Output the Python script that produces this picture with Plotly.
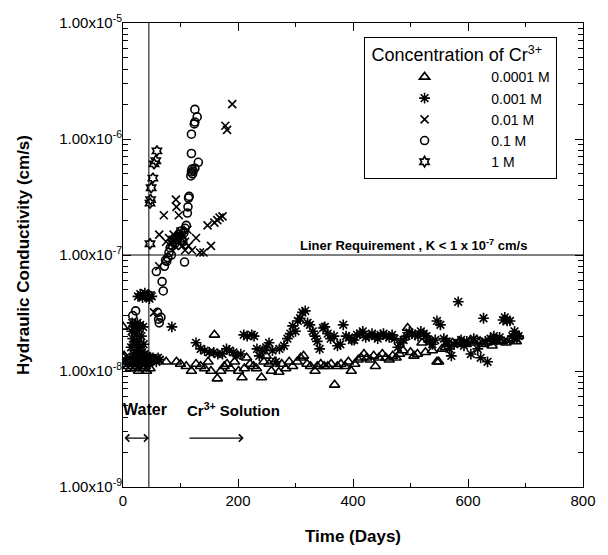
import plotly.graph_objects as go

# ---------------- data ----------------
series_names = ["0.0001 M", "0.001 M", "0.01 M", "0.1 M", "1 M"]
legend_title = "Concentration of Cr<sup>3+</sup>"

t_0001 = [0, 1, 2, 3, 5, 7, 9, 11, 13, 15, 17, 19, 21, 23, 25, 27, 29, 31, 33, 35, 37, 39, 41, 43, 45, 47,
          75, 93, 100, 110, 119, 127, 135, 142, 148, 153, 159, 164, 170, 176, 181, 187, 194, 201, 207, 211,
          215, 221, 227, 232, 241, 245, 249, 254, 258, 264, 271, 276, 283, 289, 295, 303, 309, 314, 320, 326,
          334, 338, 344, 350, 356, 362, 368, 373, 379, 386, 392, 397, 403, 409, 414, 419, 424, 430, 436, 439,
          445, 451, 457, 463, 469, 475, 481, 487, 495, 500, 506, 512, 520, 526, 532, 538, 546, 549, 555, 561,
          567, 573, 579, 585, 591, 597, 603, 609, 615, 621, 627, 633, 639, 642, 648, 654, 660, 666, 672, 678,
          684, 688]
k_0001 = [2.4e-8, 1.3e-8, 1.35e-8, 1.2e-8, 1.15e-8, 1.25e-8, 1.1e-8, 1.2e-8, 1.05e-8, 1.15e-8, 1.1e-8, 1.2e-8,
          1.05e-8, 1.15e-8, 1.1e-8, 1.0e-8, 1.2e-8, 1.1e-8, 1.15e-8, 1.05e-8, 1.2e-8, 1.1e-8, 1.0e-8, 1.15e-8,
          1.2e-8, 1.05e-8,
          1.2e-8, 1.2e-8, 1.15e-8, 1.1e-8, 1.0e-8, 1.15e-8, 1.1e-8, 1.05e-8, 1.2e-8, 1.0e-8, 2.05e-8, 8.6e-9,
          1.0e-8, 1.1e-8, 1.15e-8, 1.05e-8, 1.2e-8, 1.0e-8, 8.8e-9, 1.05e-8, 1.3e-8, 1.15e-8, 1.1e-8, 1.05e-8,
          8.8e-9, 1.2e-8, 1.35e-8, 1.15e-8, 1.0e-8, 1.2e-8, 9.8e-9, 1.15e-8, 1.05e-8, 1.2e-8, 1.1e-8, 1.2e-8,
          1.3e-8, 1.35e-8, 1.15e-8, 1.1e-8, 1.0e-8, 1.1e-8, 1.15e-8, 1.1e-8, 1.1e-8, 1.15e-8, 7.6e-9, 1.1e-8,
          1.15e-8, 1.1e-8, 1.2e-8, 1.0e-8, 1.15e-8, 1.25e-8, 1.3e-8, 1.4e-8, 1.3e-8, 1.25e-8, 1.35e-8, 1.1e-8,
          1.3e-8, 1.4e-8, 1.3e-8, 1.25e-8, 1.35e-8, 1.3e-8, 1.4e-8, 1.5e-8, 2.35e-8, 1.45e-8, 1.35e-8, 1.4e-8,
          1.75e-8, 1.45e-8, 1.85e-8, 1.5e-8, 1.2e-8, 1.2e-8, 1.55e-8, 1.6e-8, 1.7e-8, 1.75e-8, 1.7e-8, 1.8e-8,
          1.75e-8, 1.7e-8, 1.8e-8, 1.75e-8, 1.85e-8, 1.8e-8, 1.7e-8, 1.75e-8, 1.8e-8, 1.65e-8, 1.8e-8, 1.85e-8,
          1.8e-8, 1.75e-8, 1.85e-8, 1.9e-8, 1.8e-8, 2.0e-8]

t_001 = [12, 14, 15, 16, 17, 18, 19, 20, 21, 22, 23, 24, 25, 26, 27, 28, 29, 30, 31, 32, 33, 34, 35, 36, 37,
         38, 39, 40, 41, 42, 44, 46, 48, 50, 52, 55, 58, 61, 64,
         26, 30, 34, 38, 42, 46, 50,
         85, 127, 135, 142, 150, 158, 165, 173, 180, 185, 192, 198, 205, 210, 216, 224, 228, 233, 237, 243,
         249, 254, 260, 266, 272, 280, 286, 291, 295, 300, 304, 308, 312, 317, 321, 325, 330, 334, 338, 342,
         348, 351, 356, 361, 367, 373, 378, 383, 388, 393, 398, 402, 407, 412, 417, 422, 428, 433, 438, 443,
         448, 453, 458, 463, 468, 472, 478, 483, 488, 493, 498, 503, 508, 513, 518, 523, 528, 533, 538, 543,
         546, 552, 558, 563, 568, 571, 576, 583, 588, 593, 598, 605, 610, 617, 622, 627, 630, 634, 639, 645,
         650, 655, 661, 664, 668, 673, 677, 681, 685, 688]
k_001 = [1.3e-8, 1.6e-8, 2.2e-8, 2.6e-8, 1.9e-8, 1.4e-8, 2.4e-8, 1.7e-8, 2.5e-8, 1.25e-8, 2.1e-8, 1.5e-8,
         2.6e-8, 1.8e-8, 1.35e-8, 2.3e-8, 1.6e-8, 2.5e-8, 1.2e-8, 2.0e-8, 1.45e-8, 1.3e-8, 2.4e-8, 1.7e-8,
         1.25e-8, 1.4e-8, 1.2e-8, 1.3e-8, 1.35e-8, 1.25e-8, 1.3e-8, 1.2e-8, 1.3e-8, 1.25e-8, 1.3e-8, 1.25e-8,
         1.2e-8, 1.3e-8, 1.25e-8,
         4.4e-8, 4.6e-8, 4.3e-8, 4.7e-8, 4.5e-8, 4.2e-8, 4.4e-8,
         2.4e-8, 1.75e-8, 1.55e-8, 1.5e-8, 1.45e-8, 1.45e-8, 1.4e-8, 1.4e-8, 1.55e-8, 1.5e-8, 1.45e-8, 1.35e-8,
         1.4e-8, 2.05e-8, 2.0e-8, 2.05e-8, 2.0e-8, 1.55e-8, 1.35e-8, 1.5e-8, 1.6e-8, 1.75e-8, 1.5e-8, 1.2e-8,
         1.55e-8, 1.65e-8, 1.9e-8, 2.1e-8, 2.45e-8, 2.2e-8, 2.7e-8, 2.85e-8, 3.2e-8, 3.3e-8, 2.6e-8, 2.5e-8,
         2.2e-8, 2.0e-8, 1.8e-8, 1.55e-8, 2.35e-8, 2.4e-8, 2.1e-8, 1.9e-8, 2.0e-8, 1.65e-8, 1.7e-8, 2.5e-8,
         2.0e-8, 1.95e-8, 1.85e-8, 1.85e-8, 2.05e-8, 2.1e-8, 2.2e-8, 1.95e-8, 2.0e-8, 2.1e-8, 2.0e-8, 1.9e-8,
         2.05e-8, 2.1e-8, 2.0e-8, 1.95e-8, 2.05e-8, 1.9e-8, 1.6e-8, 1.75e-8, 1.85e-8, 2.0e-8, 2.15e-8, 2.1e-8,
         2.05e-8, 2.0e-8, 2.2e-8, 2.1e-8, 2.0e-8, 1.8e-8, 1.7e-8, 1.85e-8, 2.7e-8, 2.5e-8, 1.9e-8, 1.8e-8,
         1.55e-8, 1.35e-8, 1.7e-8, 3.95e-8, 1.85e-8, 1.65e-8, 1.8e-8, 1.4e-8, 1.9e-8, 1.55e-8, 1.3e-8, 2.85e-8,
         1.8e-8, 1.2e-8, 1.9e-8, 2.0e-8, 1.85e-8, 1.95e-8, 2.75e-8, 2.9e-8, 2.7e-8, 2.7e-8, 2.0e-8, 2.2e-8,
         1.9e-8, 2.0e-8]

t_01 = [34, 40, 44, 48, 54, 63, 63, 71, 75, 80, 84, 86, 88, 90, 92, 93, 95, 97, 97, 100, 103, 105, 108, 108,
        112, 114, 120, 127, 134, 140, 147, 153, 159, 164, 168, 173, 178, 181, 190]
k_01 = [4.4e-8, 4.6e-8, 4.3e-8, 4.5e-8, 3.2e-8, 8.0e-8, 1.5e-7, 2.2e-7, 1.3e-7, 1.4e-7, 1.25e-7, 1.35e-7,
        1.5e-7, 1.2e-7, 3.0e-7, 2.6e-7, 1.35e-7, 2.2e-7, 1.45e-7, 1.6e-7, 1.2e-7, 1.45e-7, 1.3e-7, 1.1e-7,
        1.65e-7, 1.2e-7, 1.1e-7, 1.4e-7, 1.05e-7, 1.05e-7, 1.8e-7, 1.2e-7, 1.9e-7, 2.0e-7, 2.1e-7, 2.15e-7,
        1.3e-6, 1.2e-6, 2.0e-6]

t_1 = [17, 22, 58, 60, 62, 63, 66, 68, 70, 72, 74, 76, 78, 80, 82, 84, 86, 88, 90, 92, 94, 96, 98, 100, 102,
       104, 106, 107, 108, 110, 112, 113, 114, 115, 118, 119, 120, 121, 122, 125, 119, 131, 119, 124, 125, 129, 125]
k_1 = [3.0e-8, 3.3e-8, 7.2e-8, 3.2e-8, 2.8e-8, 2.6e-8, 2.9e-8, 5.9e-8, 4.9e-8, 8.0e-8, 9.0e-8, 8.8e-8,
       9.5e-8, 1.05e-7, 1.15e-7, 1.0e-7, 1.2e-7, 1.3e-7, 1.25e-7, 1.4e-7, 1.35e-7, 1.5e-7, 1.45e-7, 1.6e-7,
       1.4e-7, 1.3e-7, 1.55e-7, 8.7e-8, 1.7e-7, 1.8e-7, 2.3e-7, 2.6e-7, 3.1e-7, 3.2e-7, 4.8e-7, 5.2e-7, 5.5e-7,
       5.0e-7, 5.3e-7, 5.6e-7, 7.5e-7, 6.3e-7, 1.1e-6, 1.35e-6, 1.4e-6, 1.55e-6, 1.8e-6]

t_10 = [47, 47, 48, 49, 52, 54, 57, 59]
k_10 = [1.25e-7, 2.8e-7, 3.0e-7, 3.8e-7, 4.6e-7, 6.1e-7, 6.5e-7, 7.9e-7]

y_tickvals = [1e-9, 1e-8, 1e-7, 1e-6, 1e-5]
y_ticktext = ["1.00x10<sup>-9</sup>", "1.00x10<sup>-8</sup>", "1.00x10<sup>-7</sup>",
              "1.00x10<sup>-6</sup>", "1.00x10<sup>-5</sup>"]
y_minor = [m * 10.0 ** e for e in range(-9, -5) for m in range(2, 10)]
x_tickvals = [0, 200, 400, 600, 800]
x_minor = [100, 300, 500, 700]

liner_limit = 1e-7
water_end_day = 45

# ---------------- figure ----------------
FONT = "Liberation Sans, Arial, Helvetica, sans-serif"
fig = go.Figure()

xs = [t_0001, t_001, t_01, t_1, t_10]
ys = [k_0001, k_001, k_01, k_1, k_10]
symbols = ["triangle-up-open", "asterisk-open", "x-thin-open", "circle-open", "hexagram-open"]
sizes = [9, 9, 8, 8, 8]
pad = "\u00a0" * 12
for name, x, y, sym, sz in zip(series_names, xs, ys, symbols, sizes):
    fig.add_trace(go.Scatter(
        x=x, y=y, mode="markers", name=pad + name,
        marker=dict(symbol=sym, size=sz, color="black", line=dict(color="black", width=1.6)),
    ))

fig.add_shape(type="line", xref="paper", x0=0, x1=1, yref="y", y0=liner_limit, y1=liner_limit,
              line=dict(color="black", width=1))
fig.add_shape(type="line", xref="x", x0=water_end_day, x1=water_end_day, yref="paper", y0=0, y1=1,
              line=dict(color="black", width=1))

fig.add_annotation(x=505, y=-6.911, xref="x", yref="y", showarrow=False,
                   text="<b>Liner Requirement , K < 1 x 10<sup>-7</sup> cm/s</b>",
                   font=dict(family=FONT, size=13, color="black"))
fig.add_annotation(x=39, y=-8.332, xref="x", yref="y", showarrow=False,
                   text="<b>Water</b>", font=dict(family=FONT, size=16, color="black"))
fig.add_annotation(x=192, y=-8.332, xref="x", yref="y", showarrow=False,
                   text="<b>Cr<sup>3+</sup> Solution</b>", font=dict(family=FONT, size=15, color="black"))
fig.add_annotation(x=water_end_day, y=-8.578, ax=0, ay=-8.578, xref="x", yref="y", axref="x", ayref="y",
                   showarrow=True, arrowhead=4, startarrowhead=4, arrowside="end+start",
                   arrowsize=1.2, arrowwidth=1.2, arrowcolor="black", text="")
fig.add_annotation(x=210, y=-8.578, ax=113, ay=-8.578, xref="x", yref="y", axref="x", ayref="y",
                   showarrow=True, arrowhead=4, arrowsize=1.2, arrowwidth=1.2, arrowcolor="black", text="")

axis_common = dict(showline=True, linecolor="black", linewidth=1, mirror="ticks", ticks="inside",
                   tickcolor="black", showgrid=False, zeroline=False,
                   tickfont=dict(family=FONT, size=15, color="black"))
fig.update_xaxes(range=[0, 800], tickvals=x_tickvals, ticklen=8,
                 minor=dict(tickvals=x_minor, ticks="inside", ticklen=4, tickcolor="black", showgrid=False),
                 title=dict(text="<b>Time (Days)</b>", font=dict(family=FONT, size=17, color="black"),
                            standoff=22),
                 **axis_common)
fig.update_yaxes(type="log", range=[-9, -5], tickvals=y_tickvals, ticktext=y_ticktext, ticklen=8,
                 ticklabelstandoff=-3,
                 minor=dict(tickvals=y_minor, ticks="inside", ticklen=5, tickcolor="black", showgrid=False),
                 title=dict(text="<b>Hydraulic Conductivity (cm/s)</b>",
                            font=dict(family=FONT, size=17, color="black"), standoff=25),
                 **axis_common)

fig.update_layout(
    width=608, height=555,
    margin=dict(l=123, r=15, t=20, b=63),
    paper_bgcolor="white", plot_bgcolor="white",
    font=dict(family=FONT, color="black"),
    legend=dict(x=0.523, y=0.970, xanchor="left", yanchor="top",
                bgcolor="white", bordercolor="black", borderwidth=1,
                font=dict(family=FONT, size=14, color="black"),
                title=dict(text="\u00a0" + legend_title, font=dict(family=FONT, size=18, color="black")),
                indentation=40, tracegroupgap=0),
    showlegend=True,
)

fig.write_html("out.html", config={"displayModeBar": False},
               post_script="document.body.style.margin='0';")
